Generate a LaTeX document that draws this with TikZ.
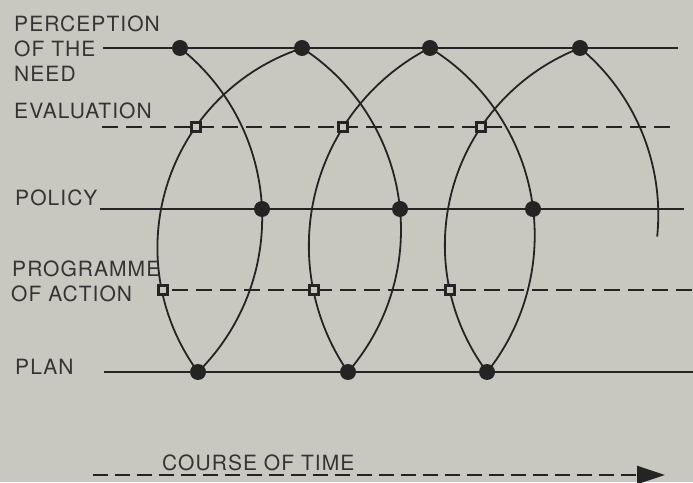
\documentclass[tikz,border=0pt]{standalone}
\usepackage{fontspec}
\setmainfont{TeX Gyre Heros}[LetterSpace=5]
\usetikzlibrary{arrows.meta}
\definecolor{paper}{RGB}{201,200,192}
\definecolor{ink}{RGB}{36,36,36}
\definecolor{txt}{RGB}{52,52,52}
\begin{document}
\begin{tikzpicture}[x=1pt,y=1pt,
  lbl/.style={anchor=base west, inner sep=0pt, text=txt, font=\fontsize{21}{25}\selectfont},
  solidline/.style={draw=ink, line width=2.6pt},
  dashline/.style={draw=ink, line width=2.4pt, dash pattern=on 16pt off 8pt},
  curve/.style={draw=ink, line width=1.8pt},
  dot/.style={circle, fill=ink, inner sep=0pt, minimum size=16pt},
  sq/.style={rectangle, draw=ink, fill=paper, line width=2.2pt, inner sep=0pt, minimum size=9pt},
]
\fill[paper] (0,0) rectangle (693,482);
\useasboundingbox (0,0) rectangle (693,482);
% line ends
\coordinate (perA) at (103,434); \coordinate (perB) at (678,434);
\coordinate (evaA) at (102,355); \coordinate (evaB) at (672,355);
\coordinate (polA) at (100,273); \coordinate (polB) at (684,273);
\coordinate (proA) at (172,192); \coordinate (proB) at (693,192);
\coordinate (plaA) at (104,110); \coordinate (plaB) at (693,110);
\coordinate (timA) at (93,7);    \coordinate (timB) at (665,7);
% marker positions
\coordinate (P1) at (180,434); \coordinate (P2) at (302,434);
\coordinate (P3) at (430,434); \coordinate (P4) at (580,434);
\coordinate (Q1) at (262,273); \coordinate (Q2) at (400,273); \coordinate (Q3) at (533,273);
\coordinate (L1) at (198,110); \coordinate (L2) at (348,110); \coordinate (L3) at (487,110);
\coordinate (E1) at (196,355); \coordinate (E2) at (343,355); \coordinate (E3) at (481,355);
\coordinate (R1) at (163,192); \coordinate (R2) at (314,192); \coordinate (R3) at (450,192);
% horizontal lines
\draw[solidline] (perA) -- (perB);
\draw[dashline] (evaA) -- (evaB);
\draw[solidline] (polA) -- (polB);
\draw[dashline] (proA) -- (proB);
\draw[solidline] (plaA) -- (plaB);
% arcs
\draw[curve] (P1) arc[start angle=51.6, end angle=-45.2, radius=216.9pt];
\draw[curve] (P2) arc[start angle=57.1, end angle=-40.9, radius=216.7pt];
\draw[curve] (P3) arc[start angle=58.4, end angle=-38.4, radius=220pt];
\draw[curve] (P4) arc[start angle=50.3, end angle=-5.8, radius=216.7pt];
\draw[curve] (L1) arc[start angle=216.2, end angle=108.2, radius=210.2pt];
\draw[curve] (L2) arc[start angle=214.5, end angle=117.1, radius=222.6pt];
\draw[curve] (L3) arc[start angle=216.8, end angle=111.2, radius=211.5pt];
% markers
\foreach \n in {P1,P2,P3,P4,Q1,Q2,Q3,L1,L2,L3} \node[dot] (d\n) at (\n) {};
\foreach \n in {E1,E2,E3,R1,R2,R3} \node[sq] (s\n) at (\n) {};
% time arrow
\draw[draw=ink, line width=2.4pt, dash pattern=on 15pt off 7pt, -{Triangle[length=28pt,width=18pt]}] (timA) -- (timB);
% labels
\node[lbl] (t1) at (14,450) {PERCEPTION};
\node[lbl] (t2) at (14,425) {OF THE};
\node[lbl] (t3) at (14,400) {NEED};
\node[lbl] (t4) at (14,363) {EVALUATION};
\node[lbl] (t5) at (15,276) {POLICY};
\node[lbl] (t6) at (12,205) {PROGRAMME};
\node[lbl] (t7) at (11,180) {OF ACTION};
\node[lbl] (t8) at (15,107) {PLAN};
\node[lbl] (t9) at (162,12) {COURSE OF TIME};
\end{tikzpicture}
\end{document}
